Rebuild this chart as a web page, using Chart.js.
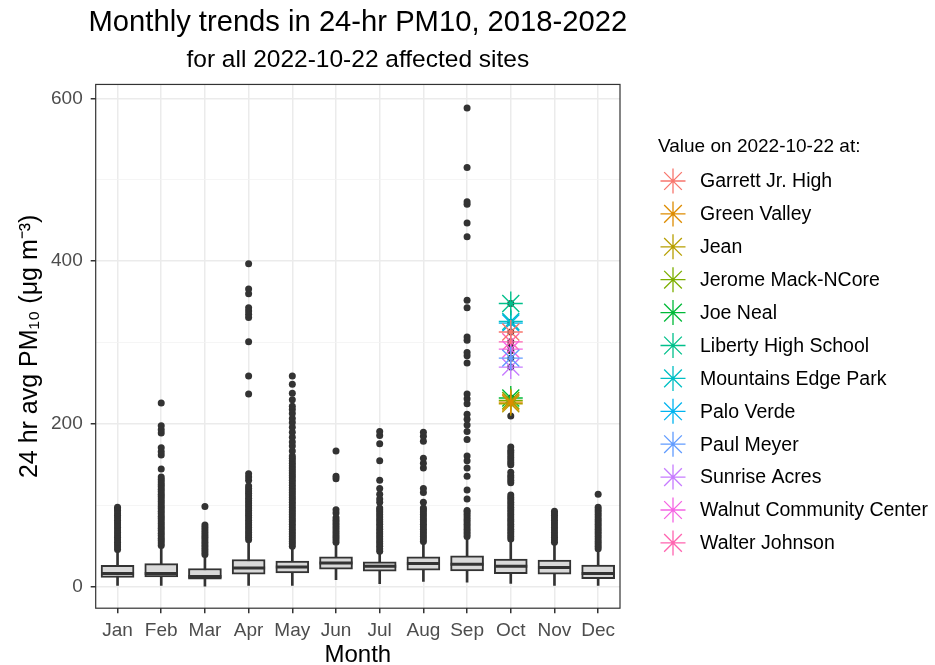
<!DOCTYPE html>
<html>
<head>
<meta charset="utf-8">
<script src="https://cdn.jsdelivr.net/npm/chart.js@4.4.1/dist/chart.umd.min.js"></script>
<style>
  html, body { margin: 0; padding: 0; background: #fff; }
  #wrap { width: 935px; height: 665px; }
</style>
</head>
<body>
<div id="wrap"><canvas id="mycanvas" width="935" height="665"></canvas></div>
<script>
// month categories
var months = ['Jan', 'Feb', 'Mar', 'Apr', 'May', 'Jun', 'Jul', 'Aug', 'Sep', 'Oct', 'Nov', 'Dec'];

// boxplot stats (24 hr PM10, ug/m3)
var whiskerLow  = [2, 2, 1, 2, 2, 9, 4, 7, 6, 4.5, 2, 2];
var boxQ1       = [11.7, 12.3, 9.5, 15.7, 17.3, 21.8, 19.4, 20.6, 19.8, 16.5, 15.7, 10.4];
var boxMedian   = [16.5, 16.5, 12.8, 23.5, 24.7, 29.6, 25.6, 28.8, 28, 25.6, 24, 16.5];
var boxQ3       = [26.7, 28.8, 22.7, 33.8, 31.7, 37, 30.9, 37, 38.3, 34.2, 33, 26.8];
var whiskerHigh = [45, 50, 39, 57, 49, 54, 43, 55.6, 61, 58, 54, 46];

// outliers per month
var outJan = [46, 49, 52, 55, 58, 61, 64, 67, 70, 73, 76, 79, 82, 85, 88, 91, 94, 96, 98];
var outFeb = [51, 54, 57, 60, 63, 66, 69, 72, 75, 78, 81, 84, 87, 90, 93, 96, 99, 102, 105, 108, 111, 114, 117, 120, 123, 126, 129, 132, 135, 145, 162, 166, 171, 189, 193, 198, 226];
var outMar = [40, 43, 46, 49, 52, 55, 58, 61, 64, 67, 70, 73, 76, 99];
var outApr = [58, 61, 64, 67, 70, 73, 76, 79, 82, 85, 88, 91, 94, 97, 100, 103, 106, 109, 112, 115, 118, 121, 124, 131, 135, 139, 237, 259, 301, 331, 335, 339, 343, 360, 366, 397];
var outMay = [50, 53, 56, 59, 62, 65, 68, 71, 74, 77, 80, 83, 86, 89, 92, 95, 98, 101, 104, 107, 110, 113, 116, 119, 122, 125, 128, 131, 134, 137, 140, 143, 146, 149, 152, 155, 158, 161, 167, 173, 178, 184, 190, 196, 202, 207, 213, 218, 222, 230, 238, 249, 259];
var outJun = [55, 58, 61, 64, 67, 70, 73, 76, 79, 82, 85, 91, 95, 133, 136, 167];
var outJul = [44, 47, 50, 53, 56, 59, 62, 65, 68, 71, 74, 77, 80, 83, 86, 89, 92, 95, 97, 104, 108, 114, 121, 131, 155, 176, 186, 191];
var outAug = [56, 59, 62, 65, 68, 71, 74, 77, 80, 83, 86, 89, 92, 95, 97, 104, 116, 121, 146, 152, 158, 179, 185, 190];
var outSep = [62, 65, 68, 71, 74, 77, 80, 83, 86, 89, 92, 94, 108, 119, 136, 146, 155, 161, 181, 191, 199, 206, 212, 225, 231, 237, 275, 284, 288, 303, 307, 343, 352, 430, 447, 470, 473, 515, 588];
var outOct = [59, 62, 65, 68, 71, 74, 77, 80, 83, 86, 89, 92, 95, 98, 101, 104, 107, 110, 113, 128, 131, 134, 137, 141, 150, 153, 156, 159, 162, 165, 168, 172, 210, 226, 232, 270, 281, 290, 296, 301, 313, 325, 348];
var outNov = [55, 58, 61, 64, 67, 70, 73, 76, 79, 82, 85, 88, 91, 93];
var outDec = [47, 50, 53, 56, 59, 62, 65, 68, 71, 74, 77, 80, 83, 86, 89, 92, 95, 98, 114];

// site values on 2022-10-22 (drawn in Oct)
var siteNames = ['Garrett Jr. High', 'Green Valley', 'Jean', 'Jerome Mack-NCore', 'Joe Neal',
  'Liberty High School', 'Mountains Edge Park', 'Palo Verde', 'Paul Meyer', 'Sunrise Acres',
  'Walnut Community Center', 'Walter Johnson'];
var siteValues = [313, 227, 225, 229, 232, 348, 326, 324, 281, 270, 292, 301];

// ggplot default hue palette for 12 groups
var huePalette = ['#F8766D', '#DE8C00', '#B79F00', '#7CAE00', '#00BA38', '#00C08B',
  '#00BFC4', '#00B4F0', '#619CFF', '#C77CFF', '#F564E3', '#FF64B0'];

var FONT = '"Liberation Sans", Arial, sans-serif';

var allOutliers = [outJan, outFeb, outMar, outApr, outMay, outJun, outJul, outAug, outSep, outOct, outNov, outDec];
var outlierPoints = [];
allOutliers.forEach(function(arr, i) {
  arr.forEach(function(v) { outlierPoints.push({x: months[i], y: v}); });
});

var datasets = [
  {
    type: 'bar', label: 'whisker', grouped: false, order: 6,
    data: months.map(function(m, i) { return [whiskerLow[i], whiskerHigh[i]]; }),
    backgroundColor: '#333333', barThickness: 2, borderWidth: 0
  },
  {
    type: 'bar', label: 'box', grouped: false, order: 5,
    data: months.map(function(m, i) { return [boxQ1[i], boxQ3[i]]; }),
    backgroundColor: '#d9d9d9', borderColor: '#333333', borderWidth: 2,
    borderSkipped: false, barThickness: 33
  },
  {
    type: 'line', label: 'median', order: 4, showLine: false,
    data: boxMedian,
    pointStyle: 'line', pointRadius: 16.5, pointBorderWidth: 3,
    pointBorderColor: '#333333', pointBackgroundColor: '#333333'
  },
  {
    type: 'line', label: 'outliers', order: 3, showLine: false,
    data: outlierPoints,
    pointRadius: 3.5, pointBorderWidth: 0,
    pointBackgroundColor: '#333333', pointBorderColor: '#333333'
  }
];

siteNames.forEach(function(name, i) {
  datasets.push({
    type: 'line', label: name, order: 1, showLine: false, isSite: true,
    data: [{x: 'Oct', y: siteValues[i]}],
    pointStyle: 'star', pointRadius: 12, pointBorderWidth: 1.4,
    pointBorderColor: huePalette[i], pointBackgroundColor: huePalette[i],
    borderColor: huePalette[i]
  });
});

// let the main title overhang the panel a little (it is wider than the plot)
var wideTitle = {
  id: 'wideTitle',
  afterLayout: function(chart) {
    if (chart.titleBlock) {
      chart.titleBlock.left -= 60;
      chart.titleBlock.right += 60;
    }
  }
};

// panel border drawn on top, like theme_bw
var panelBorder = {
  id: 'panelBorder',
  afterDraw: function(chart) {
    var a = chart.chartArea, ctx = chart.ctx;
    ctx.save();
    ctx.strokeStyle = '#333333';
    ctx.lineWidth = 1.2;
    ctx.strokeRect(a.left, a.top, a.right - a.left, a.bottom - a.top);
    ctx.restore();
  }
};

// legend on the right with star keys
var starLegend = {
  id: 'starLegend',
  afterDraw: function(chart) {
    var ctx = chart.ctx;
    ctx.save();
    ctx.fillStyle = '#000';
    ctx.textBaseline = 'middle';
    ctx.textAlign = 'left';
    ctx.font = '19px ' + FONT;
    ctx.fillText('Value on 2022-10-22 at:', 658, 147);
    ctx.font = '19.5px ' + FONT;
    chart.data.datasets.forEach(function(ds) {
      if (!ds.isSite) return;
      var i = siteNames.indexOf(ds.label);
      var cx = 673, cy = 181 + i * 32.9, r = 12.5;
      ctx.strokeStyle = ds.pointBorderColor;
      ctx.lineWidth = 1.3;
      ctx.beginPath();
      for (var k = 0; k < 4; k++) {
        var ang = k * Math.PI / 4;
        ctx.moveTo(cx - Math.cos(ang) * r, cy - Math.sin(ang) * r);
        ctx.lineTo(cx + Math.cos(ang) * r, cy + Math.sin(ang) * r);
      }
      ctx.stroke();
      ctx.fillStyle = '#000';
      ctx.fillText(ds.label, 700, cy + 1);
    });
    ctx.restore();
  }
};

var ctx = document.getElementById('mycanvas');
var chart = new Chart(ctx, {
  type: 'bar',
  data: { labels: months, datasets: datasets },
  plugins: [wideTitle, panelBorder, starLegend],
  options: {
    responsive: false,
    animation: false,
    events: [],
    layout: { padding: { left: 15, right: 315, top: 0, bottom: 0 } },
    scales: {
      x: {
        offset: true,
        border: { display: false },
        grid: { offset: false, color: '#ebebeb', lineWidth: 1.5, tickColor: '#333333', tickLength: 5 },
        ticks: { color: '#4d4d4d', font: { family: FONT, size: 19 }, padding: 6 },
        title: { display: true, text: 'Month', color: '#000', font: { family: FONT, size: 24, lineHeight: 1.0 }, padding: { top: -5, bottom: -2 } }
      },
      y: {
        min: -26,
        max: 617,
        border: { display: false },
        grid: {
          color: function(c) { return c.tick && c.tick.value % 200 === 0 ? '#ebebeb' : '#f3f3f3'; },
          lineWidth: function(c) { return c.tick && c.tick.value % 200 === 0 ? 1.5 : 0.8; },
          tickColor: function(c) { return c.tick && c.tick.value % 200 === 0 ? '#333333' : 'rgba(0,0,0,0)'; },
          tickLength: 5
        },
        ticks: {
          stepSize: 100,
          includeBounds: false,
          color: '#4d4d4d',
          font: { family: FONT, size: 19 },
          padding: 8,
          callback: function(v) { return v % 200 === 0 ? v : ''; }
        },
        title: { display: true, text: '24 hr avg PM\u2081\u2080 (\u03bcg m\u207b\u00b3)', color: '#000', font: { family: FONT, size: 25 }, padding: { top: 0, bottom: -2 } }
      }
    },
    plugins: {
      legend: { display: false },
      tooltip: { enabled: false },
      title: {
        display: true, fullSize: false,
        text: 'Monthly trends in 24-hr PM10, 2018-2022',
        color: '#000', font: { family: FONT, size: 29.2, weight: 'normal' },
        padding: { top: 5, bottom: 3 }
      },
      subtitle: {
        display: true, fullSize: false,
        text: 'for all 2022-10-22 affected sites',
        color: '#000', font: { family: FONT, size: 24.5, weight: 'normal' },
        padding: { top: 3, bottom: 9 }
      }
    }
  }
});
</script>
</body>
</html>
